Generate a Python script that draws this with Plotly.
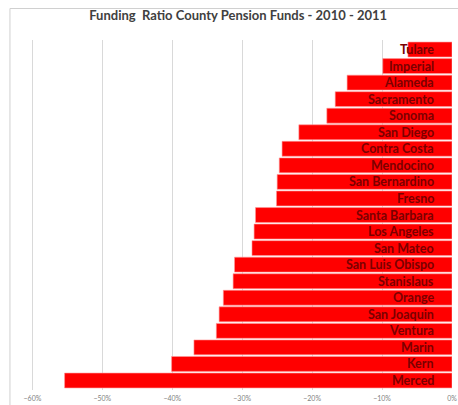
import plotly.graph_objects as go

counties = ["Tulare", "Imperial", "Alameda", "Sacramento", "Sonoma", "San Diego",
            "Contra Costa", "Mendocino", "San Bernardino", "Fresno", "Santa Barbara",
            "Los Angeles", "San Mateo", "San Luis Obispo", "Stanislaus", "Orange",
            "San Joaquin", "Ventura", "Marin", "Kern", "Merced"]
ratio = [-0.063, -0.099, -0.150, -0.167, -0.179, -0.219, -0.243, -0.247, -0.250,
         -0.251, -0.281, -0.283, -0.286, -0.311, -0.313, -0.327, -0.333, -0.337,
         -0.369, -0.401, -0.554]
x_ticks = [-0.6, -0.5, -0.4, -0.3, -0.2, -0.1, 0.0]

fig = go.Figure(go.Bar(
    x=ratio, y=counties, orientation="h",
    marker=dict(color="#ff0000", line=dict(color="#ff9a9a", width=0.6)),
))

for c in counties:
    fig.add_annotation(x=0, y=c, xref="x", yref="y", text=c, showarrow=False,
                       xanchor="right", yanchor="middle", xshift=-16,
                       font=dict(family="Lato", size=12.5, color="#7a0000", weight="bold"))

fig.update_layout(
    width=458, height=405,
    margin=dict(l=31, r=6, t=40, b=15),
    paper_bgcolor="white", plot_bgcolor="white",
    bargap=0.1,
    showlegend=False,
    title=dict(text="Funding  Ratio County Pension Funds - 2010 - 2011",
               x=0.52, xanchor="center", y=0.962, yanchor="middle",
               font=dict(family="Lato", size=13, color="#404040", weight="bold")),
    xaxis=dict(range=[-0.602, 0.0], tickvals=x_ticks, tickformat=".0%",
               showgrid=True, gridcolor="#d9d9d9", gridwidth=1,
               zeroline=False, showline=False, automargin=False,
               tickfont=dict(family="Lato", size=7, color="#7f7f7f"),
               ticks="", ticklabelstandoff=3),
    yaxis=dict(autorange="reversed", showticklabels=False, automargin=False,
               showgrid=False, zeroline=False, showline=False),
    shapes=[dict(type="rect", xref="paper", yref="paper",
                 x0=-0.05, x1=1.3, y0=-0.2, y1=1.09,
                 line=dict(color="#d0d0d0", width=1), fillcolor="rgba(0,0,0,0)",
                 layer="below")],
)

fig.write_html("out.html")
